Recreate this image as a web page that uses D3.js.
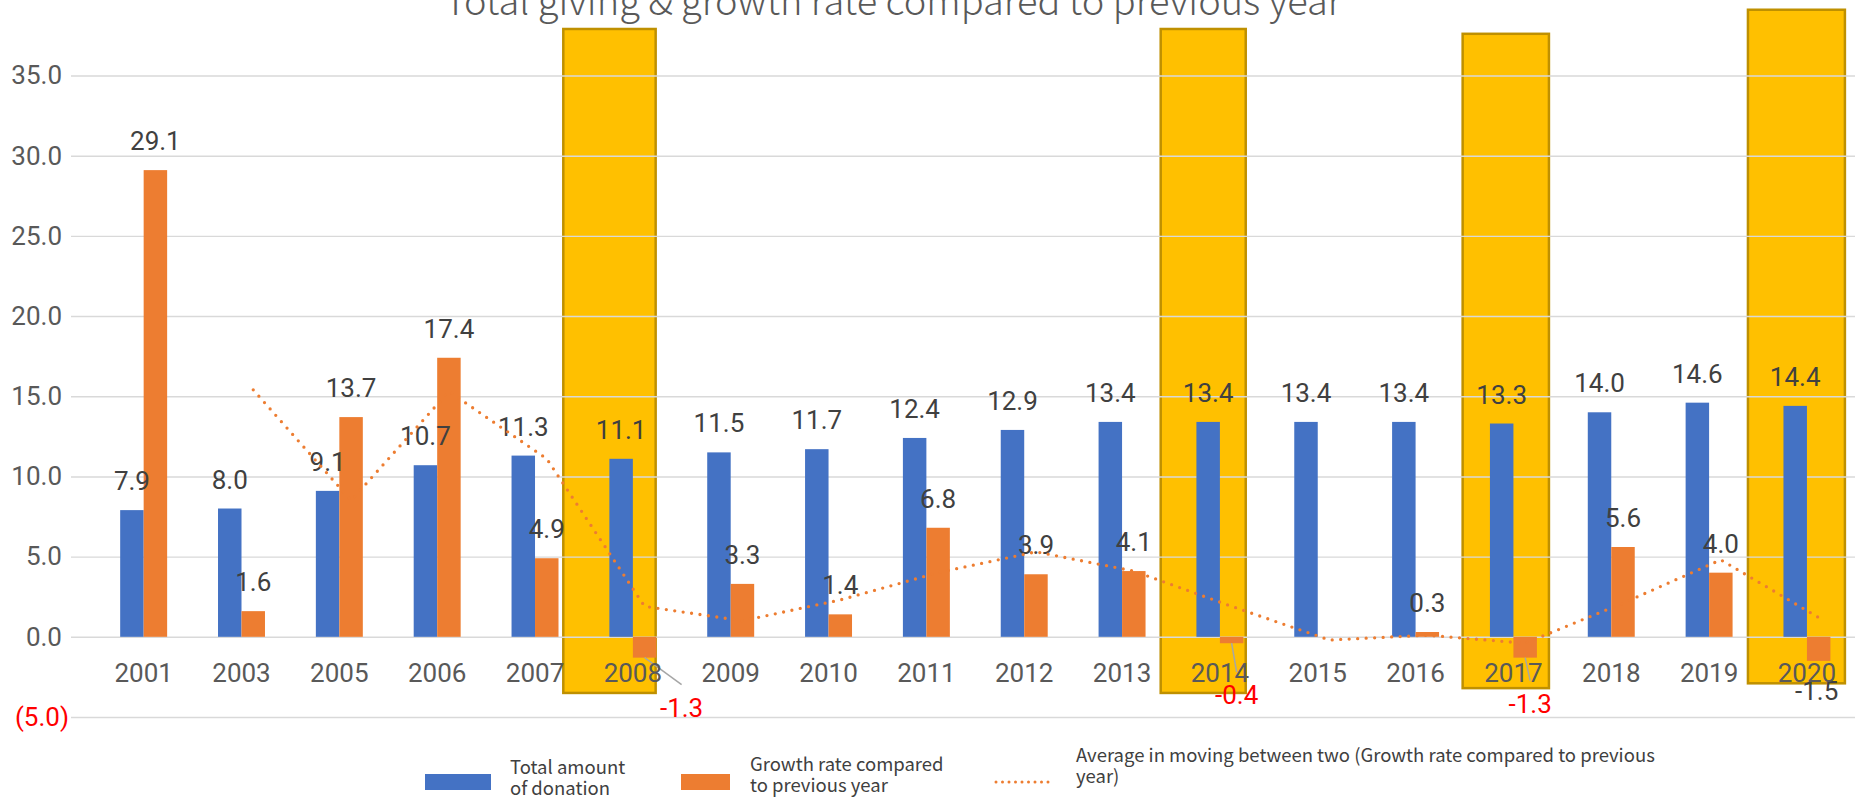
<!DOCTYPE html>
<html>
<head>
<meta charset="utf-8">
<script src="https://cdn.jsdelivr.net/npm/d3@7"></script>
<style>
  html, body { margin: 0; padding: 0; background: #fff; }
  svg { display: block; }
  text { font-family: Roboto, "Noto Sans", sans-serif; }
  .legend text, .title { font-family: "Noto Sans CJK KR", "Noto Sans", sans-serif; }
</style>
</head>
<body>
<div class="viewbox"></div>
<script>
  // values
  const years = ["2001", "2003", "2005", "2006", "2007", "2008", "2009", "2010", "2011",
    "2012", "2013", "2014", "2015", "2016", "2017", "2018", "2019", "2020"]
  const totalDonation = [7.9, 8.0, 9.1, 10.7, 11.3, 11.1, 11.5, 11.7, 12.4,
    12.9, 13.4, 13.4, 13.4, 13.4, 13.3, 14.0, 14.6, 14.4]
  // 2015 has no bar / label in the picture
  const growthRate = [29.1, 1.6, 13.7, 17.4, 4.9, -1.3, 3.3, 1.4, 6.8,
    3.9, 4.1, -0.4, null, 0.3, -1.3, 5.6, 4.0, -1.5]
  // dotted 2-period moving average, starts at 2003
  const avgYears = years.slice(1)
  const movingAvg = [15.4, 8.5, 15.3, 11.1, 1.9, 1.0, 2.3, 4.0, 5.3,
    4.1, 1.9, -0.2, 0.1, -0.4, 2.1, 4.8, 1.2]
  const yTicks = [-5, 0, 5, 10, 15, 20, 25, 30, 35]

  // yellow highlight boxes behind the chart (value units)
  const highlightYears = ["2008", "2014", "2017", "2020"]
  const highlightTop = [37.9, 37.9, 37.6, 39.1]
  const highlightBottom = [-3.5, -3.5, -3.2, -2.9]

  const seriesNames = ["Total amount\nof donation", "Growth rate compared\nto previous year",
    "Average in moving between two (Growth rate compared to previous\nyear)"]
  const title = "Total giving & growth rate compared to previous year"

  const BLUE = "#4472C4"
  const ORANGE = "#ED7D31"
  const svg_width = 1860
  const svg_height = 797

  // box edges as fractions of a category step, left / right of the band centre
  const boxEdges = [[-0.711, 0.233], [-0.605, 0.264], [-0.519, 0.363], [-0.603, 0.388]]
  // dragged negative labels: offset from bar bottom, colour, leader or not
  const negLabels = {
    "2008": { dx: 37, dy: 59, color: "#FF0000", leader: true },
    "2014": { dx: 5, dy: 61, color: "#FF0000", leader: true },
    "2017": { dx: 5, dy: 55, color: "#FF0000", leader: true },
    "2020": { dx: -2, dy: 39, color: "#404040", leader: false }
  }

  let svg = d3.select(".viewbox")
    .append("svg")
    .attr("width", svg_width)
    .attr("height", svg_height)

  let x = d3.scaleBand()
    .domain(years)
    .range([69.3, 1881.3])
    .paddingInner(0.52)
    .paddingOuter(0.52)

  let x1 = d3.scaleBand()
    .domain(["total", "growth"])
    .range([0, x.bandwidth()])

  let y = d3.scaleLinear()
    .domain([-5, 35])
    .range([717, 75.5])

  const center = d => x(d) + x.bandwidth() / 2

  ////////////////////////////////////////////////
  // highlight boxes (they sit under everything, gridlines run over them)
  svg.append("g")
    .selectAll("rect")
    .data(highlightYears)
    .enter()
    .append("rect")
    .attr("x", (d, i) => center(d) + boxEdges[i][0] * x.step())
    .attr("width", (d, i) => (boxEdges[i][1] - boxEdges[i][0]) * x.step())
    .attr("y", (d, i) => y(highlightTop[i]))
    .attr("height", (d, i) => y(highlightBottom[i]) - y(highlightTop[i]))
    .attr("fill", "#FFC000")
    .attr("stroke", "#BF9000")
    .attr("stroke-width", 2.5)

  ////////////////////////////////////////////////
  // y axis -> gridlines + labels
  let yAxis = svg.append("g")
    .attr("transform", "translate(71,0)")
    .call(d3.axisLeft(y)
      .tickValues(yTicks)
      .tickSize(-(1855 - 71))
      .tickPadding(9)
      .tickFormat(d => d < 0 ? "(" + Math.abs(d).toFixed(1) + ")" : d.toFixed(1)))
  yAxis.select(".domain").remove()
  yAxis.selectAll("line")
    .attr("stroke", "#D9D9D9")
    .attr("stroke-width", 1.4)
  yAxis.selectAll("text")
    .attr("font-size", 26)
    .attr("fill", d => d < 0 ? "#FF0000" : "#595959")
    .attr("dx", d => d < 0 ? 7 : 0)

  ////////////////////////////////////////////////
  // bars
  let groups = svg.append("g")
    .selectAll("g")
    .data(years)
    .enter()
    .append("g")
    .attr("transform", d => "translate(" + x(d) + ",0)")

  groups.append("rect")
    .attr("x", x1("total"))
    .attr("width", x1.bandwidth())
    .attr("y", (d, i) => y(totalDonation[i]))
    .attr("height", (d, i) => y(0) - y(totalDonation[i]))
    .attr("fill", BLUE)

  groups.filter((d, i) => growthRate[i] !== null)
    .append("rect")
    .attr("x", x1("growth"))
    .attr("width", x1.bandwidth())
    .attr("y", d => y(Math.max(0, growthRate[years.indexOf(d)])))
    .attr("height", d => Math.abs(y(0) - y(growthRate[years.indexOf(d)])))
    .attr("fill", ORANGE)

  ////////////////////////////////////////////////
  // dotted moving average, sits over the orange bar centre
  let line = d3.line()
    .x(d => x(d.year) + x1("growth") + x1.bandwidth() / 2)
    .y(d => y(d.v))

  svg.append("path")
    .datum(avgYears.map((yr, i) => ({ year: yr, v: movingAvg[i] })))
    .attr("d", line)
    .attr("fill", "none")
    .attr("stroke", ORANGE)
    .attr("stroke-width", 3.3)
    .attr("stroke-linecap", "round")
    .attr("stroke-dasharray", "0 8.5")

  ////////////////////////////////////////////////
  // x axis labels
  let xAxis = svg.append("g")
    .call(d3.axisBottom(x).tickSize(0))
  xAxis.select(".domain").remove()
  xAxis.selectAll("text")
    .attr("y", 681.5)
    .attr("dy", null)
    .attr("font-size", 26)
    .attr("fill", "#595959")

  ////////////////////////////////////////////////
  // data labels
  groups.append("text")
    .attr("x", x1("total") + x1.bandwidth() / 2)
    .attr("y", (d, i) => y(totalDonation[i]) - 20)
    .attr("text-anchor", "middle")
    .attr("font-size", 26)
    .attr("fill", "#404040")
    .text((d, i) => totalDonation[i].toFixed(1))

  groups.filter((d, i) => growthRate[i] !== null && growthRate[i] >= 0)
    .append("text")
    .attr("x", x1("growth") + x1.bandwidth() / 2)
    .attr("y", d => y(growthRate[years.indexOf(d)]) - 20)
    .attr("text-anchor", "middle")
    .attr("font-size", 26)
    .attr("fill", "#404040")
    .text(d => growthRate[years.indexOf(d)].toFixed(1))

  let neg = groups.filter((d, i) => growthRate[i] !== null && growthRate[i] < 0)
  const barMid = x1("growth") + x1.bandwidth() / 2

  // grey leader lines for the labels that were dragged away
  neg.filter(d => negLabels[d].leader)
    .append("line")
    .attr("x1", barMid)
    .attr("y1", d => y(growthRate[years.indexOf(d)]))
    .attr("x2", d => barMid + negLabels[d].dx)
    .attr("y2", d => y(growthRate[years.indexOf(d)]) + negLabels[d].dy - 32)
    .attr("stroke", "#A6A6A6")
    .attr("stroke-width", 1.5)

  neg.append("text")
    .attr("x", d => barMid + negLabels[d].dx)
    .attr("y", d => y(growthRate[years.indexOf(d)]) + negLabels[d].dy)
    .attr("text-anchor", "middle")
    .attr("font-size", 26)
    .attr("fill", d => negLabels[d].color)
    .text(d => growthRate[years.indexOf(d)].toFixed(1))

  ////////////////////////////////////////////////
  // title (cut off by the top edge, like the reference)
  svg.append("text")
    .attr("class", "title")
    .attr("x", 893)
    .attr("y", 15)
    .attr("text-anchor", "middle")
    .attr("font-size", 38)
    .attr("font-weight", 300)
    .attr("fill", "#595959")
    .text(title)

  ////////////////////////////////////////////////
  // legend
  const legendItems = [
    { name: seriesNames[0], kind: "rect", color: BLUE, sx: 425, sw: 66, tx: 510, ty: 774 },
    { name: seriesNames[1], kind: "rect", color: ORANGE, sx: 681, sw: 49, tx: 750, ty: 771 },
    { name: seriesNames[2], kind: "line", color: ORANGE, sx: 994, sw: 60, tx: 1076, ty: 762 }
  ]
  let legend = svg.append("g")
    .attr("class", "legend")
    .selectAll("g")
    .data(legendItems)
    .enter()
    .append("g")

  legend.filter(d => d.kind === "rect")
    .append("rect")
    .attr("x", d => d.sx)
    .attr("y", 774)
    .attr("width", d => d.sw)
    .attr("height", 16)
    .attr("fill", d => d.color)

  legend.filter(d => d.kind === "line")
    .append("line")
    .attr("x1", d => d.sx + 2)
    .attr("x2", d => d.sx + d.sw - 2)
    .attr("y1", 782)
    .attr("y2", 782)
    .attr("stroke", d => d.color)
    .attr("stroke-width", 3)
    .attr("stroke-linecap", "round")
    .attr("stroke-dasharray", "0 6.5")

  legend.append("text")
    .attr("font-size", 18.5)
    .attr("fill", "#404040")
    .each(function (d) {
      d3.select(this).selectAll("tspan")
        .data(d.name.split("\n"))
        .enter()
        .append("tspan")
        .attr("x", d.tx)
        .attr("y", (t, j) => d.ty + j * 21)
        .text(t => t)
    })
</script>
</body>
</html>
